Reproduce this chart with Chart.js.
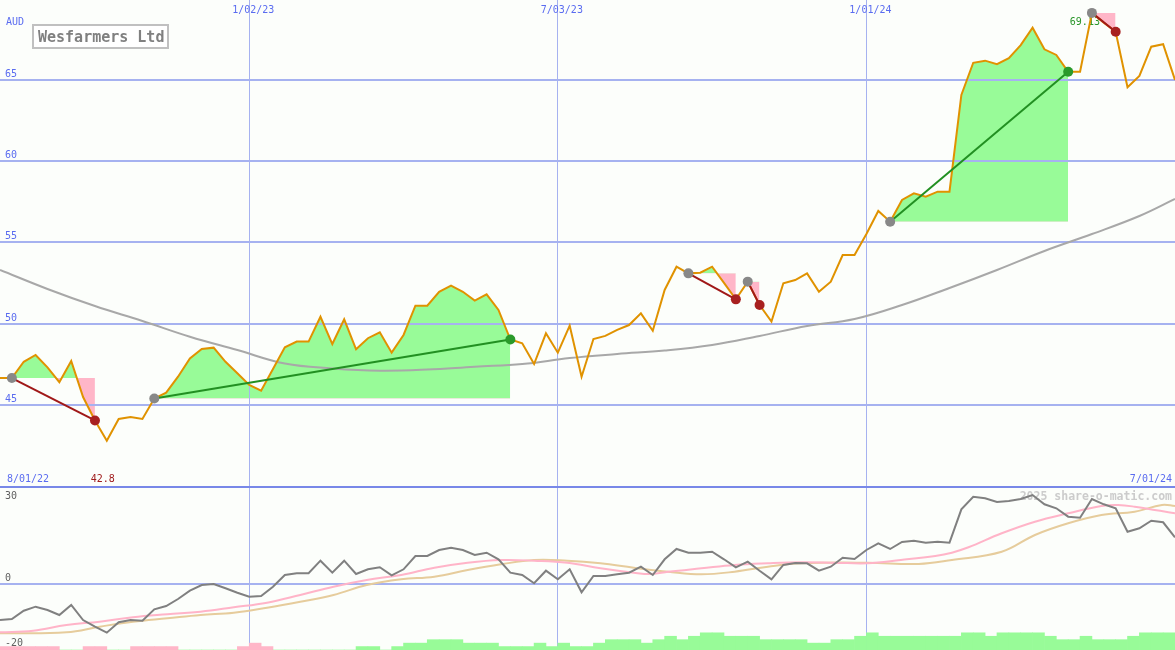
<!DOCTYPE html>
<html>
<head>
<meta charset="utf-8">
<script src="https://cdn.jsdelivr.net/npm/chart.js@4.4.1/dist/chart.umd.min.js"></script>
<style>
  body { margin: 0; background: #fcfefb; }
  #wrap { position: relative; width: 1175px; height: 650px; overflow: hidden; }
  canvas { position: absolute; left: 0; }
</style>
</head>
<body>
<div id="wrap">
  <canvas id="priceChart" width="1175" height="486" style="top:0"></canvas>
  <canvas id="flowChart" width="1175" height="164" style="top:486px"></canvas>
</div>
<script>
// weekly closes, index 0..99
const price = [
  46.66, 46.66, 47.66, 48.08, 47.32, 46.40, 47.71, 45.49, 44.05, 42.8,
  44.14, 44.26, 44.14, 45.40, 45.76, 46.74, 47.87, 48.45, 48.53, 47.66,
  46.95, 46.23, 45.88, 47.22, 48.55, 48.90, 48.90, 50.43, 48.75, 50.27,
  48.43, 49.11, 49.47, 48.22, 49.31, 51.11, 51.11, 51.97, 52.34, 51.97,
  51.42, 51.81, 50.85, 49.03, 48.80, 47.52, 49.41, 48.22, 49.88, 46.74,
  49.06, 49.25, 49.62, 49.92, 50.64, 49.57, 52.08, 53.51, 53.10, 53.14,
  53.51, 52.51, 51.50, 52.59, 51.15, 50.13, 52.49, 52.69, 53.10, 51.97,
  52.59, 54.23, 54.23, 55.52, 56.94, 56.28, 57.62, 58.03, 57.82, 58.13,
  58.13, 64.08, 66.06, 66.19, 65.97, 66.34, 67.15, 68.22, 66.89, 66.54,
  65.51, 65.51, 69.13, 68.53, 67.97, 64.55, 65.25, 67.05, 67.20, 65.00
];

// long moving average (grey)
const maWeeks = [0, 4, 8, 12, 16, 20, 24, 28, 32, 36, 40, 44, 48, 52, 56, 60, 64, 68, 72, 76, 80, 84, 88, 92, 96, 99];
const maValues = [53.31, 52.14, 51.09, 50.17, 49.20, 48.38, 47.55, 47.25, 47.11, 47.18,
  47.36, 47.52, 47.89, 48.14, 48.35, 48.69, 49.25, 49.86, 50.29, 51.15,
  52.20, 53.31, 54.48, 55.52, 56.63, 57.68];

// trades: buy week -> sell week
const tradeIn = [1, 13, 58, 63, 75, 92];
const tradeOut = [8, 43, 62, 64, 90, 94];

const gridWeeks = [21, 47, 73];
const gridDates = ["1/02/23", "7/03/23", "1/01/24"];
const firstDate = "8/01/22";
const lastDate = "7/01/24";
const priceTicks = [45, 50, 55, 60, 65];

// lower panel
const momentum = [
  -11.08, -10.77, -8.22, -6.98, -8.0, -9.54, -6.46, -11.08, -13.14, -14.98,
  -11.78, -11.08, -11.29, -7.78, -6.77, -4.62, -2.06, -0.31, 0, -1.32,
  -2.68, -3.91, -3.69, -0.83, 2.77, 3.29, 3.29, 7.17, 3.48, 7.17,
  3.08, 4.52, 5.14, 2.68, 4.52, 8.62, 8.62, 10.46, 11.17, 10.46,
  8.92, 9.63, 7.6, 3.48, 2.77, 0.22, 4.09, 1.45, 4.52, -2.55,
  2.46, 2.46, 2.98, 3.48, 5.32, 2.77, 7.6, 10.77, 9.63, 9.63,
  9.94, 7.6, 5.14, 6.86, 4.09, 1.45, 5.85, 6.46, 6.37, 4.09,
  5.32, 8.09, 7.69, 10.46, 12.52, 10.77, 12.92, 13.32, 12.71, 13.02,
  12.71, 22.98, 26.86, 26.37, 25.23, 25.54, 26.15, 27.38, 24.52, 23.29,
  20.71, 20.4, 26.15, 24.52, 23.29, 16.09, 17.14, 19.48, 18.98, 14.37
];
const pinkWeeks = [0, 2.8, 5.6, 8.4, 11.2, 14.1, 16.9, 19.7, 22.5, 25.3, 28.1, 30.9, 33.8, 36.6, 39.4, 42.2, 45, 47.8, 50.6, 53.4, 54.9, 56.3, 59.1, 61.9, 64.7, 67.5, 70.3, 73.1, 75.9, 78.8, 80.2, 81.6, 84.4, 87.2, 90, 92.8, 94.2, 95.6, 99];
const pinkValues = [-14.86, -14.37, -12.62, -11.6, -10.25, -9.32, -8.52, -7.17, -5.75, -3.38, -0.83, 1.23, 2.77, 5.02, 6.55, 7.38, 7.17, 6.55, 4.83, 3.48, 3.08, 3.78, 4.83, 5.85, 6.37, 6.68, 6.55, 6.37, 7.38, 8.62, 9.63, 11.29, 15.6, 19.17, 21.75, 24.0, 24.31, 23.78, 21.75];
const tanWeeks = [0, 5.6, 8.4, 11.2, 14.1, 16.9, 19.7, 22.5, 25.3, 28.1, 30.9, 33.8, 36.6, 39.4, 42.2, 45, 47.8, 50.6, 53.4, 56.3, 59.1, 61.9, 64.7, 67.5, 73.1, 77.4, 80.2, 84.4, 87.2, 90, 92.8, 95.6, 97.9, 99];
const tanValues = [-15.17, -14.86, -13.14, -11.6, -10.55, -9.54, -8.83, -7.29, -5.45, -3.38, -0.31, 1.45, 2.25, 4.31, 6.06, 7.38, 7.17, 6.37, 5.02, 3.78, 2.98, 3.78, 5.32, 6.37, 6.55, 6.15, 7.38, 9.94, 15.08, 18.68, 21.23, 22.25, 24.31, 24.0];
const flowTicks = [30, 0, -20];
// weekly flow bars (negative = pink)
const flow = [
  -1, -1, -1, -1, -1, 0, 0, -1, -1, 0,
  0, -1, -1, -1, -1, 0, 0, 0, 0, 0,
  -1, -2, -1, 0, 0, 0, 0, 0, 0, 0,
  1, 1, 0, 1, 2, 2, 3, 3, 3, 2,
  2, 2, 1, 1, 1, 2, 1, 2, 1, 1,
  2, 3, 3, 3, 2, 3, 4, 3, 4, 5,
  5, 4, 4, 4, 3, 3, 3, 3, 2, 2,
  3, 3, 4, 5, 4, 4, 4, 4, 4, 4,
  4, 5, 5, 4, 5, 5, 5, 5, 4, 3,
  3, 4, 3, 3, 3, 4, 5, 5, 5
];

const GRID_BLUE = "#a6b2f0";
const TEXT_BLUE = "#5a6cf0";
const LABEL_FONT = '10px "DejaVu Sans Mono"';
const GREEN_FILL = "#98fb98";
const PINK_FILL = "#ffb6c8";

let xAxis = () => ({
  type: "linear", min: 0, max: 99, offset: false,
  afterBuildTicks: axis => { axis.ticks = gridWeeks.map(w => ({ value: w })); },
  grid: { color: GRID_BLUE, lineWidth: 1, drawTicks: false, offset: false },
  ticks: { display: false },
  border: { display: false }
});

let plotPrice = () => {
  const ctx = document.getElementById("priceChart");
  const pts = price.map((p, i) => ({ x: i, y: p }));
  const datasets = [];

  // buy / sell dots
  datasets.push({
    data: tradeOut.map(i => ({ x: i, y: price[i] })), showLine: false,
    pointRadius: 5, pointBorderWidth: 0, pointHoverRadius: 5,
    pointBackgroundColor: tradeOut.map((o, k) => price[o] >= price[tradeIn[k]] ? "#2a9a2a" : "#a82020"),
    order: 0
  });
  datasets.push({
    data: tradeIn.map(i => ({ x: i, y: price[i] })), showLine: false,
    pointRadius: 5, pointBorderWidth: 0, pointBackgroundColor: "#888888", order: 1
  });
  // trade lines
  tradeIn.forEach((a, k) => {
    const b = tradeOut[k];
    datasets.push({
      data: [{ x: a, y: price[a] }, { x: b, y: price[b] }],
      borderColor: price[b] >= price[a] ? "#229022" : "#a01818",
      borderWidth: 2, pointRadius: 0, order: 2
    });
  });
  datasets.push({ data: pts, borderColor: "#e09200", borderWidth: 2, pointRadius: 0, order: 3 });
  datasets.push({
    data: maWeeks.map((w, k) => ({ x: w, y: maValues[k] })),
    borderColor: "#a8a8a8", borderWidth: 2, pointRadius: 0, tension: 0.4, order: 4
  });
  // profit / loss areas
  tradeIn.forEach((a, k) => {
    const b = tradeOut[k];
    datasets.push({
      data: pts.slice(a, b + 1),
      borderColor: "rgba(0,0,0,0)", borderWidth: 0, pointRadius: 0,
      fill: { target: { value: price[a] }, above: GREEN_FILL, below: PINK_FILL },
      order: 5
    });
  });

  const textPlugin = {
    id: "priceText",
    beforeDatasetsDraw(chart) {
      const { ctx, scales: { x, y } } = chart;
      ctx.save();
      ctx.font = LABEL_FONT;
      ctx.fillStyle = TEXT_BLUE;
      ctx.textAlign = "left";
      ctx.fillText("AUD", 6, 25);
      priceTicks.forEach(v => ctx.fillText(String(v), 5, y.getPixelForValue(v) - 3));
      ctx.fillText(firstDate, 7, 482);
      ctx.textAlign = "center";
      gridWeeks.forEach((w, k) => ctx.fillText(gridDates[k], x.getPixelForValue(w) + 4, 13));
      ctx.textAlign = "right";
      ctx.fillText(lastDate, chart.width - 3, 482);

      const lo = Math.min(...price), hi = Math.max(...price);
      const loI = price.indexOf(lo), hiI = price.indexOf(hi);
      ctx.fillStyle = "#a01c1c";
      ctx.textAlign = "center";
      ctx.fillText(String(lo), x.getPixelForValue(loI) - 4, 482);
      ctx.fillStyle = "#2a962a";
      ctx.textAlign = "right";
      ctx.fillText(String(hi), x.getPixelForValue(hiI) + 8, y.getPixelForValue(hi) + 12);
      ctx.restore();
    },
    afterDraw(chart) {
      const ctx = chart.ctx;
      ctx.save();
      ctx.fillStyle = "#ffffff";
      ctx.fillRect(33, 25, 135, 23);
      ctx.strokeStyle = "#c0c0c0";
      ctx.lineWidth = 2;
      ctx.strokeRect(33, 25, 135, 23);
      ctx.fillStyle = "#808080";
      ctx.font = 'bold 15px "DejaVu Sans Mono"';
      ctx.fillText("Wesfarmers Ltd", 38, 42);
      ctx.restore();
    }
  };

  new Chart(ctx, {
    type: "line",
    data: { datasets },
    options: {
      responsive: false, animation: false, devicePixelRatio: 1,
      layout: { padding: 0, autoPadding: false },
      plugins: { legend: { display: false }, tooltip: { enabled: false }, filler: { drawTime: "beforeDraw" } },
      scales: {
        x: xAxis(),
        y: {
          min: 40.015, max: 69.923,
          afterBuildTicks: axis => { axis.ticks = priceTicks.map(v => ({ value: v })); },
          grid: { color: GRID_BLUE, lineWidth: 2, drawTicks: false },
          ticks: { display: false },
          border: { display: false }
        }
      }
    },
    plugins: [textPlugin]
  });
};

let plotFlow = () => {
  const ctx = document.getElementById("flowChart");
  const textPlugin = {
    id: "flowText",
    beforeDatasetsDraw(chart) {
      const { ctx, scales: { y } } = chart;
      ctx.save();
      ctx.font = LABEL_FONT;
      ctx.fillStyle = "#606060";
      flowTicks.forEach(v => ctx.fillText(String(v), 5, Math.max(13, y.getPixelForValue(v) - 3)));
      ctx.font = 'bold 11.5px "DejaVu Sans Mono"';
      ctx.fillStyle = "#cccccc";
      ctx.textAlign = "right";
      ctx.fillText("2025 share-o-matic.com", chart.width - 3, 14);
      ctx.restore();
    },
    afterDraw(chart) {
      const ctx = chart.ctx;
      ctx.save();
      ctx.fillStyle = "#7888e8";
      ctx.fillRect(0, 0, chart.width, 2);
      ctx.restore();
    }
  };

  new Chart(ctx, {
    type: "line",
    data: {
      datasets: [
        { data: momentum.map((v, i) => ({ x: i, y: v })), borderColor: "#808080", borderWidth: 2, pointRadius: 0, order: 0 },
        { data: pinkWeeks.map((w, k) => ({ x: w, y: pinkValues[k] })), borderColor: "#ffb4c8", borderWidth: 2, pointRadius: 0, tension: 0.4, order: 1 },
        { data: tanWeeks.map((w, k) => ({ x: w, y: tanValues[k] })), borderColor: "#e6cc9c", borderWidth: 2, pointRadius: 0, tension: 0.4, order: 2 },
        {
          type: "bar", yAxisID: "yv", order: 3,
          data: flow.map((v, i) => ({ x: i + 0.5, y: Math.abs(v) })),
          backgroundColor: flow.map(v => v < 0 ? PINK_FILL : GREEN_FILL),
          borderWidth: 0, barPercentage: 1, categoryPercentage: 1
        }
      ]
    },
    options: {
      responsive: false, animation: false, devicePixelRatio: 1,
      layout: { padding: 0, autoPadding: false },
      plugins: { legend: { display: false }, tooltip: { enabled: false } },
      scales: {
        x: xAxis(),
        y: {
          min: -20.31, max: 30.15,
          afterBuildTicks: axis => { axis.ticks = [{ value: 0 }]; },
          grid: { color: GRID_BLUE, lineWidth: 2, drawTicks: false },
          ticks: { display: false },
          border: { display: false }
        },
        yv: { display: false, min: 0, max: 47.7 }
      }
    },
    plugins: [textPlugin]
  });
};

plotPrice();
plotFlow();
</script>
</body>
</html>
